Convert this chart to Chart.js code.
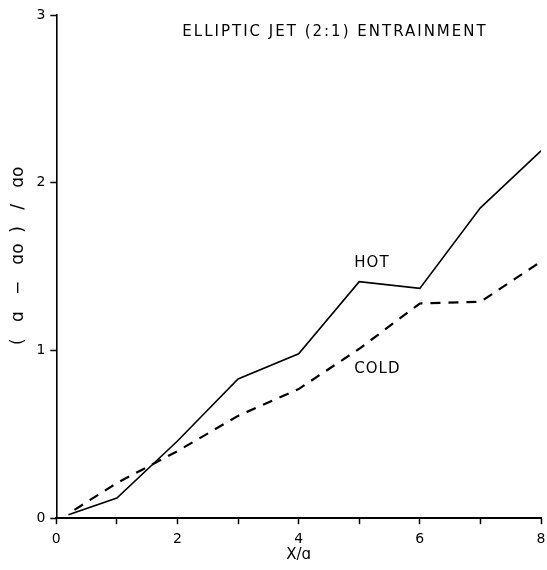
<!DOCTYPE html>
<html lang="en">
<head>
    <meta charset="UTF-8">
    <title>Elliptic Jet (2:1) Entrainment</title>
    <script src="https://cdn.jsdelivr.net/npm/chart.js"></script>
    <style>
        body { margin: 0; background: #fff; }
        #wrap { width: 547px; height: 570px; }
    </style>
</head>
<body>
<div id="wrap">
    <canvas id="myChart" width="547" height="570"></canvas>
</div>

<script>
// values
const hotX = [0.2, 1, 2, 3, 4, 5, 6, 7, 8];
const hotY = [0.02, 0.12, 0.46, 0.83, 0.98, 1.41, 1.37, 1.85, 2.19];
const coldX = [0.3, 1, 2, 3, 4, 5, 6, 7, 8];
const coldY = [0.05, 0.21, 0.40, 0.61, 0.77, 1.01, 1.28, 1.29, 1.53];

const xLabels = ['0', '', '2', '', '4', '', '6', '', '8'];
const yLabels = ['0', '1', '2', '3'];

// curve labels, in data units
const curveNames = ['HOT', 'COLD'];
const curveNameX = [5.21, 5.3];
const curveNameY = [1.52, 0.89];

const titleText = 'ELLIPTIC JET (2:1) ENTRAINMENT';
// leading blanks push the rotated label up a little, as in the scan
const yTitle = '    (   ɑ   −   ɑo  )   /   ɑo';

const toPoints = (xs, ys) => xs.map((x, i) => ({ x: x, y: ys[i] }));

// draws title and the HOT / COLD labels inside the plot
const textPlugin = {
    id: 'plotText',
    afterDatasetsDraw(chart) {
        const ctx = chart.ctx;
        const xs = chart.scales.x;
        const ys = chart.scales.y;
        ctx.save();
        ctx.fillStyle = '#000';
        ctx.textAlign = 'center';
        ctx.textBaseline = 'middle';
        ctx.font = '15px "DejaVu Sans"';
        ctx.letterSpacing = '2px';
        ctx.fillText(titleText, xs.getPixelForValue(4.6), ys.getPixelForValue(2.9));
        ctx.letterSpacing = '1px';
        curveNames.forEach((name, i) => {
            ctx.fillText(name, xs.getPixelForValue(curveNameX[i]), ys.getPixelForValue(curveNameY[i]));
        });
        ctx.restore();
    }
};

const ctx = document.getElementById('myChart').getContext('2d');
new Chart(ctx, {
    type: 'scatter',
    data: {
        datasets: [
            {
                label: 'HOT',
                data: toPoints(hotX, hotY),
                showLine: true,
                borderColor: '#000',
                borderWidth: 1.6,
                pointRadius: 0,
                fill: false
            },
            {
                label: 'COLD',
                data: toPoints(coldX, coldY),
                showLine: true,
                borderColor: '#000',
                borderWidth: 2.2,
                borderDash: [10, 8],
                pointRadius: 0,
                fill: false
            }
        ]
    },
    options: {
        responsive: false,
        animation: false,
        layout: { padding: { top: 15, right: 0, left: 8, bottom: 6 } },
        plugins: {
            legend: { display: false },
            tooltip: { enabled: false }
        },
        scales: {
            x: {
                type: 'linear',
                min: 0,
                max: 8,
                // the plot runs almost to the right edge, let the "8" sit there
                afterFit: (scale) => { scale.paddingRight = 6; },
                ticks: {
                    stepSize: 1,
                    color: '#000',
                    font: { family: 'DejaVu Sans', size: 14 },
                    padding: 7,
                    maxRotation: 0,
                    callback: (v) => xLabels[v]
                },
                grid: { drawOnChartArea: false, color: '#000', tickLength: 6, tickWidth: 1.5 },
                border: { display: true, color: '#000', width: 2 },
                title: {
                    display: true,
                    text: 'X/ɑ',
                    color: '#000',
                    font: { family: 'DejaVu Sans', size: 15 },
                    padding: { top: -9, bottom: 0 }
                }
            },
            y: {
                type: 'linear',
                min: 0,
                max: 3,
                ticks: {
                    stepSize: 1,
                    color: '#000',
                    font: { family: 'DejaVu Sans', size: 14 },
                    padding: 5,
                    callback: (v) => yLabels[v]
                },
                grid: { drawOnChartArea: false, color: '#000', tickLength: 6, tickWidth: 1.5 },
                border: { display: true, color: '#000', width: 1.6 },
                title: {
                    display: true,
                    text: yTitle,
                    color: '#000',
                    font: { family: 'DejaVu Sans', size: 17 },
                    padding: { top: 0, bottom: 3 }
                }
            }
        }
    },
    plugins: [textPlugin]
});
</script>
</body>
</html>
